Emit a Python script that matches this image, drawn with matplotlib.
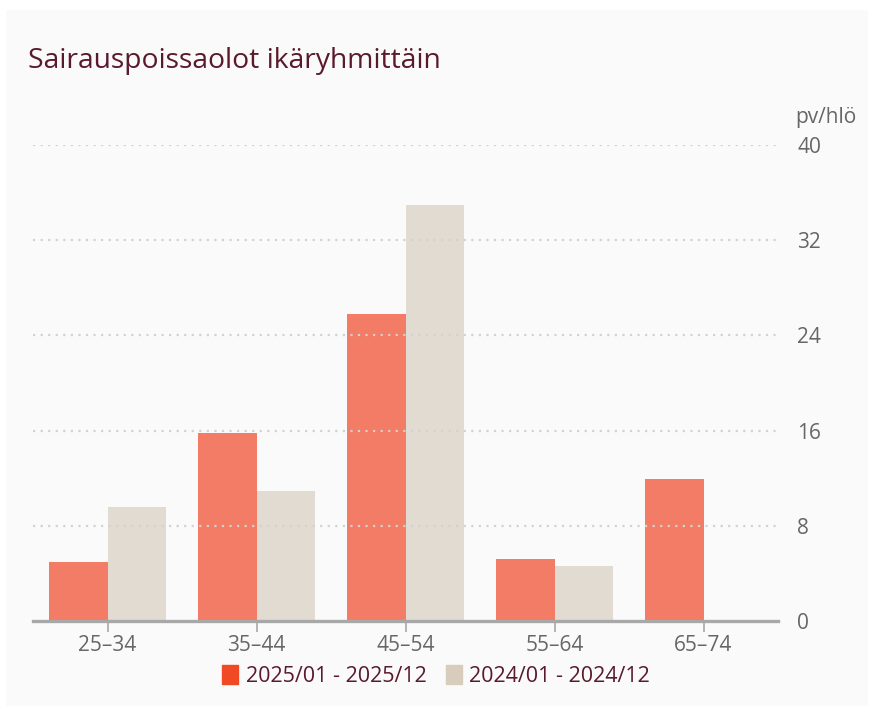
import matplotlib.pyplot as plt
import numpy as np
from matplotlib.patches import Rectangle

# data
age_groups = ["25–34", "35–44", "45–54", "55–64", "65–74"]
values_2025 = [5.0, 15.8, 25.8, 5.2, 11.9]
values_2024 = [9.6, 10.9, 35.0, 4.6, 0]
series_labels = ["2025/01 - 2025/12", "2024/01 - 2024/12"]
y_ticks = [0, 8, 16, 24, 32, 40]

BAR_RED = "#f27c66"
BAR_BEIGE = "#e2dbd1"
LEG_RED = "#f04923"
LEG_BEIGE = "#d8cdbd"
TITLE_COL = "#5a1a2c"
TICK_COL = "#666666"

plt.rcParams['font.family'] = ['Open Sans', 'DejaVu Sans']

fig = plt.figure(figsize=(8.71, 7.15), dpi=100, facecolor="white")

# light panel behind everything
fig.patches.append(Rectangle((6 / 871, 1 - 706 / 715), 862 / 871, 696 / 715,
                             transform=fig.transFigure, facecolor="#fafafa",
                             edgecolor="none", zorder=-10))

ax = fig.add_axes([33 / 871, 1 - 621 / 715, 745 / 871, 476 / 715])
ax.set_facecolor("none")
ax.set_zorder(5)

x = np.arange(len(age_groups))
w = 0.395
ax.bar(x - w / 2, values_2025, w, color=BAR_RED, zorder=2)
ax.bar(x + w / 2, values_2024, w, color=BAR_BEIGE, zorder=2)

ax.set_xlim(-0.5, len(age_groups) - 0.5)
ax.set_ylim(0, 40)

# dotted grid on top of bars
for t in y_ticks[1:]:
    ax.axhline(t, color="#d2d2d2", linestyle=(0, (1, 2.4)), linewidth=1.6, zorder=3)
ax.axhline(0, color="#a8a8a8", linewidth=2.4, zorder=4, clip_on=False)

for s in ax.spines.values():
    s.set_visible(False)

ax.yaxis.tick_right()
ax.set_yticks(y_ticks)
ax.set_yticklabels([str(t) for t in y_ticks])
ax.tick_params(axis="y", length=0, pad=14, labelsize=15, labelcolor=TICK_COL)

ax.set_xticks(x)
ax.set_xticklabels(age_groups)
ax.tick_params(axis="x", length=8, width=1.2, color="#a8a8a8", pad=2,
               labelsize=15, labelcolor=TICK_COL)

fig.text(795 / 871, 1 - 117 / 715, "pv/hlö", fontsize=15, color=TICK_COL,
         ha="left", va="center")

fig.text(28 / 871, 1 - 61 / 715, "Sairauspoissaolot ikäryhmittäin",
         fontsize=20.3, color=TITLE_COL, ha="left", va="center")

# legend
handles = [Rectangle((0, 0), 1, 1, color=LEG_RED),
           Rectangle((0, 0), 1, 1, color=LEG_BEIGE)]
fig.legend(handles, series_labels, loc="center", bbox_to_anchor=(436 / 871, 1 - 676 / 715),
           ncol=2, frameon=False, fontsize=15.5, handlelength=0.75, handleheight=1.0,
           handletextpad=0.35, columnspacing=0.9, labelcolor=TITLE_COL)

fig.savefig("out.png", dpi=100, facecolor="white")
